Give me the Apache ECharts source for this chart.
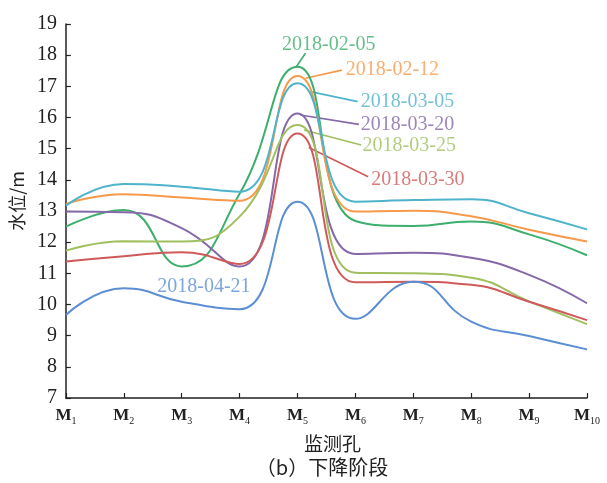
<!DOCTYPE html>
<html><head><meta charset="utf-8">
<script src="https://cdn.jsdelivr.net/npm/echarts@6/dist/echarts.min.js"></script>
<style>html,body{margin:0;padding:0;background:#fff}#c{width:607px;height:483px}</style>
</head><body><div id="c"></div>
<script>
// categories (monitoring wells)
const wellNums = ['1','2','3','4','5','6','7','8','9','10'];
// series names
const dates = ['2018-02-05','2018-02-12','2018-03-05','2018-03-20','2018-03-25','2018-03-30','2018-04-21'];
// water level values (m)
const v0205 = [12.50, 13.03, 11.22, 13.55, 17.63, 12.68, 12.52, 12.66, 12.25, 11.58];
const v0212 = [13.23, 13.54, 13.43, 13.33, 17.33, 12.98, 13.01, 12.83, 12.40, 12.02];
const v0305 = [13.17, 13.87, 13.78, 13.62, 17.10, 13.30, 13.35, 13.38, 12.93, 12.41];
const v0320 = [12.98, 12.96, 12.45, 11.22, 16.13, 11.62, 11.66, 11.50, 10.95, 10.04];
const v0325 = [11.73, 12.03, 12.02, 12.82, 15.76, 11.02, 11.00, 10.86, 10.10, 9.37];
const v0330 = [11.38, 11.55, 11.68, 11.30, 15.49, 10.71, 10.73, 10.63, 10.09, 9.50];
const v0421 = [9.66, 10.52, 10.09, 9.85, 13.30, 9.54, 10.73, 9.45, 8.99, 8.56];
const allValues = [v0205, v0212, v0305, v0320, v0325, v0330, v0421];
const colors = ['#3daf6c', '#f7994a', '#4fb3cc', '#8468a8', '#a0bf5e', '#cf5a5a', '#5b8ed3'];
// annotation leader lines and label centres, in data units (well index, metres)
const leaderFrom = [[3.98,17.63],[4.137,17.26],[4.22,16.83],[4.05,16.08],[4.11,15.60],[4.195,15.04],null];
const leaderTo   = [[4.137,18.06],[4.766,17.52],[5.04,16.51],[5.06,15.78],[5.10,15.12],[5.22,14.10],null];
const labelAt    = [[4.54,18.33],[5.64,17.53],[5.90,16.51],[5.90,15.78],[5.93,15.10],[6.08,14.00],[2.383,10.58]];

const serif = 'Liberation Serif';
const cjk = 'Noto Sans CJK SC';

const series = [];
dates.forEach((d, i) => {
  series.push({
    name: d, type: 'line', smooth: 0.5, showSymbol: false, symbol: 'none',
    data: allValues[i].map((v, k) => [k, v]),
    lineStyle: {color: colors[i], width: 2}, itemStyle: {color: colors[i]},
    silent: true, z: 3
  });
  if (leaderFrom[i]) {
    series.push({
      type: 'line', data: [leaderFrom[i], leaderTo[i]], symbol: 'none', silent: true,
      lineStyle: {color: colors[i], width: 1.6}, z: 2
    });
  }
});
series.push({
  type: 'scatter', symbolSize: 0, silent: true,
  data: labelAt.map((p, i) => ({
    value: p,
    label: {show: true, position: 'inside', formatter: dates[i], color: colors[i],
            fontFamily: serif, fontSize: 20}
  })),
  itemStyle: {color: 'transparent'}
});

const chart = echarts.init(document.getElementById('c'), null, {renderer: 'canvas'});
chart.setOption({
  animation: false,
  backgroundColor: '#fff',
  grid: {left: 62, right: 20, top: 24, bottom: 85},
  xAxis: {
    type: 'value', min: 0, max: 9, interval: 1,
    name: '监测孔', nameLocation: 'middle', nameGap: 36,
    nameTextStyle: {fontFamily: cjk, fontSize: 19, color: '#222', padding: [0, 0, 0, 12]},
    axisLine: {lineStyle: {color: '#222', width: 1.5}},
    axisTick: {inside: true, length: 5, lineStyle: {color: '#222', width: 1.2}},
    splitLine: {show: false},
    axisLabel: {
      margin: 8,
      formatter: v => '{m|M}{s|' + wellNums[v] + '}',
      rich: {
        m: {fontFamily: serif, fontWeight: 'bold', fontSize: 17, color: '#222'},
        s: {fontFamily: serif, fontSize: 10, color: '#222', padding: [10, 0, 0, 0]}
      }
    }
  },
  yAxis: {
    type: 'value', min: 7, max: 19, interval: 1,
    name: '水位/m', nameLocation: 'middle', nameGap: 35, nameRotate: 90,
    nameTextStyle: {fontFamily: cjk, fontSize: 18, color: '#222', padding: [0, 0, 0, 20]},
    axisLine: {show: true, lineStyle: {color: '#222', width: 1.5}},
    axisTick: {show: true, inside: true, length: 5, lineStyle: {color: '#222', width: 1.2}},
    splitLine: {show: false},
    axisLabel: {margin: 9, fontFamily: serif, fontSize: 20, color: '#222'}
  },
  graphic: [{
    type: 'text', x: 322, y: 467,
    style: {text: '（b）下降阶段', fontFamily: cjk, fontSize: 20, fill: '#222',
            textAlign: 'center', textVerticalAlign: 'middle'}
  }],
  series: series
});
</script></body></html>
